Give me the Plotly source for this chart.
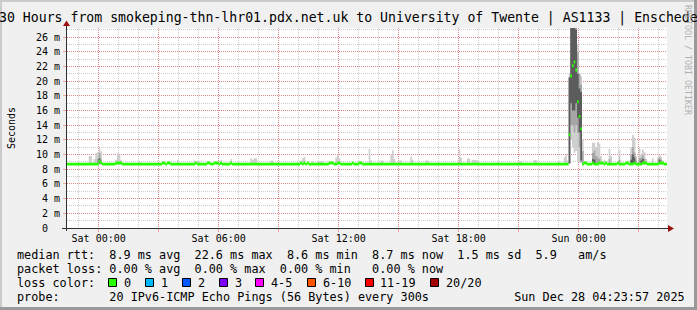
import plotly.graph_objects as go
import pandas as pd

# ---------------- data ----------------
START = "2025-12-26 22:25"
STEP = "5min"
N_SAMPLES = 360

TITLE = "30 Hours from smokeping-thn-lhr01.pdx.net.uk to University of Twente | AS1133 | Enschede"

# median rtt (ms), one value per 5-minute sample
median_rtt = [
    8.7, 8.7, 8.7, 8.7, 8.7, 8.7, 8.7, 8.7, 8.7, 8.7, 8.7, 8.7, 8.7, 8.7, 8.7, 8.7, 8.7, 8.7, 8.7, 9.1,
    8.9, 8.7, 8.7, 8.7, 8.7, 8.7, 8.7, 8.7, 8.7, 8.85, 8.85, 8.85, 8.85, 8.7, 8.7, 8.7, 8.7, 8.7, 8.7, 8.7,
    8.7, 8.7, 8.7, 8.7, 8.7, 8.7, 8.7, 8.7, 8.7, 8.7, 8.7, 8.7, 8.7, 8.7, 8.7, 8.7, 8.7, 8.85, 8.85, 8.7,
    8.85, 8.85, 8.7, 8.7, 8.7, 8.7, 8.7, 8.7, 8.7, 8.7, 8.7, 8.7, 8.7, 8.7, 8.7, 8.7, 8.7, 8.85, 8.7, 8.7,
    8.7, 8.7, 8.7, 8.7, 8.85, 8.85, 8.7, 8.7, 8.85, 8.85, 8.85, 8.7, 8.85, 8.7, 8.7, 8.7, 8.7, 8.7, 8.85, 8.7,
    8.7, 8.7, 8.7, 8.7, 8.7, 8.7, 8.7, 8.7, 8.7, 8.7, 8.7, 8.7, 8.7, 8.7, 8.7, 8.7, 8.7, 8.7, 8.7, 8.7,
    8.7, 8.7, 8.7, 8.7, 8.7, 8.7, 8.7, 8.7, 8.7, 8.7, 8.7, 8.7, 8.7, 8.7, 8.7, 8.7, 8.7, 8.7, 8.7, 8.7,
    8.85, 8.7, 8.85, 8.7, 8.85, 8.7, 8.7, 8.7, 8.7, 8.7, 8.7, 8.7, 8.7, 8.7, 8.7, 8.7, 8.7, 8.85, 8.85, 8.85,
    8.7, 8.7, 8.85, 8.85, 8.7, 8.7, 8.7, 8.7, 8.7, 8.7, 8.7, 8.85, 8.7, 8.7, 8.7, 8.85, 8.85, 8.7, 8.7, 8.7,
    8.7, 8.7, 8.7, 8.7, 8.7, 8.7, 8.7, 8.7, 8.7, 8.7, 8.7, 8.7, 8.7, 8.7, 8.7, 8.7, 8.7, 8.7, 8.7, 8.7,
    8.7, 8.7, 8.7, 8.7, 8.7, 8.7, 8.7, 8.7, 8.7, 8.7, 8.7, 8.7, 8.7, 8.7, 8.7, 8.7, 8.7, 8.7, 8.7, 8.7,
    8.7, 8.7, 8.7, 8.7, 8.7, 8.7, 8.7, 8.7, 8.7, 8.7, 8.7, 8.7, 8.7, 8.7, 8.7, 8.7, 8.7, 8.7, 8.7, 8.7,
    8.7, 8.7, 8.7, 8.7, 8.7, 8.7, 8.7, 8.7, 8.7, 8.7, 8.7, 8.7, 8.7, 8.7, 8.7, 8.7, 8.7, 8.7, 8.7, 8.7,
    8.7, 8.7, 8.7, 8.7, 8.7, 8.7, 8.7, 8.7, 8.7, 8.7, 8.7, 8.7, 8.7, 8.7, 8.7, 8.7, 8.7, 8.7, 8.7, 8.7,
    8.7, 8.7, 8.7, 8.7, 8.7, 8.7, 8.7, 8.7, 8.7, 8.7, 8.7, 8.7, 8.7, 8.7, 8.7, 8.7, 8.7, 8.7, 8.7, 8.7,
    8.7, 12.7, 20.7, 22.1, 22.6, 21.5, 17.2, 15.2, 13.5, 8.7, 8.85, 8.85, 8.7, 8.7, 8.7, 8.85, 8.7, 8.7, 8.7, 8.85,
    8.85, 8.85, 8.7, 8.85, 8.7, 8.7, 8.7, 8.7, 8.7, 8.7, 8.85, 8.7, 8.7, 8.7, 8.7, 8.85, 8.85, 8.7, 8.7, 8.7,
    8.85, 8.7, 8.7, 8.7, 8.7, 8.85, 8.85, 8.85, 8.7, 8.7, 8.7, 8.7, 8.7, 8.7, 8.7, 8.85, 8.85, 8.85, 8.7, 8.7,
]

# visible smoke (full ping spread): sample number, min ping, max ping (ms)
smoke_sample = [13, 14, 16, 17, 18, 19, 20, 29, 30, 31, 32, 43, 66, 76, 78, 79, 92, 98,
                110, 111, 112, 113, 122, 123, 140, 141, 142, 147, 150, 151, 152, 153,
                161, 162, 163, 181, 182, 188, 189, 194, 195, 196, 199, 200, 206, 207,
                215, 216, 235, 236, 240, 241, 243, 244, 245, 246, 258, 271, 272, 280,
                281, 295, 298, 299, 300, 301, 302, 303, 304, 305, 306, 307, 308, 309,
                315, 316, 317, 318, 319, 320, 322, 325, 326, 331, 336, 338, 339, 340,
                341, 343, 344, 345, 346, 347, 351, 354, 355, 356, 357]
smoke_min = [8.6, 8.6, 8.6, 8.6, 8.6, 8.6, 8.6, 8.6, 8.6, 8.6, 8.6, 8.6, 8.6, 8.6, 8.6, 8.6, 8.6, 8.6,
             8.6, 8.6, 8.6, 8.6, 8.6, 8.6, 8.6, 8.6, 8.6, 8.6, 8.6, 8.6, 8.6, 8.6,
             8.6, 8.6, 8.6, 8.6, 8.6, 8.6, 8.6, 8.6, 8.6, 8.6, 8.6, 8.6, 8.6, 8.6,
             8.6, 8.6, 8.6, 8.6, 8.6, 8.6, 8.6, 8.6, 8.6, 8.6, 8.6, 8.6, 8.6, 8.6,
             8.6, 8.6, 8.6, 8.6, 8.6, 8.7, 12.0, 11.0, 10.2, 10.5, 9.0, 8.9, 8.8, 8.6,
             8.6, 8.6, 8.6, 8.6, 8.6, 8.6, 8.6, 8.6, 8.6, 8.6, 8.6, 8.6, 8.6, 8.6,
             8.6, 8.6, 8.6, 8.6, 8.6, 8.6, 8.6, 8.6, 8.6, 8.6, 8.6]
smoke_max = [9.8, 9.8, 9.4, 10.2, 10.3, 11.1, 10.4, 9.3, 10.2, 10.0, 9.3, 9.1, 9.3, 9.2, 9.1, 9.1, 9.3, 9.35,
             9.5, 9.3, 9.5, 9.5, 9.2, 9.2, 9.2, 9.5, 9.66, 9.1, 9.1, 9.1, 9.1, 9.1,
             9.6, 10.0, 9.5, 10.8, 9.2, 9.2, 9.2, 10.0, 10.6, 9.4, 9.2, 9.2, 9.75, 9.3,
             9.2, 9.2, 10.7, 9.6, 9.5, 9.4, 9.3, 9.2, 9.3, 9.2, 9.1, 9.1, 9.1, 9.3,
             9.2, 9.1, 9.6, 10.0, 9.2, 21.0, 30.0, 30.0, 30.0, 30.0, 25.0, 21.0, 20.7, 12.0,
             11.6, 11.6, 11.0, 11.7, 11.5, 9.8, 9.3, 10.8, 9.8, 10.7, 9.2, 11.0, 12.7, 12.3,
             9.8, 10.9, 10.0, 10.7, 10.3, 9.4, 9.5, 9.6, 10.0, 9.7, 9.2]

# denser middle part of the ping spread
mid_sample = [18, 19, 20, 301, 302, 303, 304, 305, 306, 307, 308, 309, 315, 316, 317,
              318, 319, 325, 331, 338, 339, 340, 341, 343, 344, 345, 346, 355, 356]
mid_lo = [8.7, 8.7, 8.7, 8.8, 14.0, 14.0, 13.0, 14.0, 13.0, 11.0, 9.0, 8.7, 8.7, 8.7, 8.7,
          8.7, 8.7, 8.7, 8.7, 8.7, 8.7, 8.7, 8.7, 8.7, 8.7, 8.7, 8.7, 8.7, 8.7]
mid_hi = [9.4, 10.2, 9.3, 20.5, 30.0, 30.0, 30.0, 29.0, 24.0, 21.0, 19.5, 10.5, 10.2, 10.5, 9.8,
          9.6, 9.4, 9.4, 9.3, 10.0, 11.0, 10.3, 9.2, 9.5, 9.6, 9.9, 9.5, 9.6, 9.3]

# core of the ping spread (darkest smoke)
core_sample = [19, 301, 302, 303, 304, 305, 306, 307, 308, 315, 316, 338, 339, 340, 344, 345, 355]
core_lo = [8.8, 8.8, 17.0, 16.0, 16.0, 17.0, 15.0, 13.0, 9.2, 8.7, 8.7, 8.7, 8.7, 8.7, 8.7, 8.7, 8.7]
core_hi = [9.5, 20.5, 29.0, 30.0, 28.0, 27.0, 21.0, 19.0, 18.5, 9.4, 9.3, 9.3, 10.0, 9.6, 9.2, 9.4, 9.3]

x_tick_times = ["2025-12-27 00:00", "2025-12-27 03:00", "2025-12-27 06:00", "2025-12-27 09:00",
                "2025-12-27 12:00", "2025-12-27 15:00", "2025-12-27 18:00", "2025-12-27 21:00",
                "2025-12-28 00:00", "2025-12-28 03:00"]
x_tick_labels = ["Sat 00:00", "", "Sat 06:00", "", "Sat 12:00", "", "Sat 18:00", "", "Sun 00:00", ""]
y_tick_values = [0, 2, 4, 6, 8, 10, 12, 14, 16, 18, 20, 22, 24, 26]
y_tick_labels = ["0  ", "2 m", "4 m", "6 m", "8 m", "10 m", "12 m", "14 m", "16 m",
                 "18 m", "20 m", "22 m", "24 m", "26 m"]
Y_MAX = 27.23

loss_labels = ["0", "1", "2", "3", "4-5", "6-10", "11-19", "20/20"]
loss_colors = ["#26ff00", "#00b8ff", "#0059ff", "#7e00ff", "#ff00ff", "#ff5500", "#ff0000", "#a10000"]

row_rtt = "median rtt:  8.9 ms avg  22.6 ms max  8.6 ms min  8.7 ms now  1.5 ms sd  5.9   am/s"
row_loss = "packet loss: 0.00 % avg  0.00 % max  0.00 % min   0.00 % now"
row_color = "loss color:"
row_probe = "probe:       20 IPv6-ICMP Echo Pings (56 Bytes) every 300s            Sun Dec 28 04:23:57 2025"

# ---------------- helpers ----------------
FONT = "DejaVu Sans Mono"
W, H = 697, 310
L, R, T, B = 67, 30, 28, 82
PW, PH = W - L - R, H - T - B
BOTTOM = T + PH


def PX(px):
    return (px - L) / PW


def PY(py):
    return (BOTTOM - py) / PH


def nb(s):
    return s.replace(" ", "\u00a0")


times = [t.strftime("%Y-%m-%d %H:%M:%S") for t in pd.date_range(START, periods=N_SAMPLES + 1, freq=STEP)]


def band(samples, lo, hi):
    """step-shaped filled band (union of per-sample rectangles)"""
    runs = []
    for k, s in enumerate(samples):
        if runs and s == runs[-1][-1][0] + 1:
            runs[-1].append((s, lo[k], hi[k]))
        else:
            runs.append([(s, lo[k], hi[k])])
    xs, ys = [], []
    for run in runs:
        for s, l, h in run:
            xs += [times[s], times[s + 1]]
            ys += [h, h]
        for s, l, h in reversed(run):
            xs += [times[s + 1], times[s]]
            ys += [l, l]
        xs += [times[run[0][0]], None]
        ys += [run[0][2], None]
    return xs, ys


fig = go.Figure()


def add_band(samples, lo, hi, color):
    xs, ys = band(samples, lo, hi)
    fig.add_trace(go.Scatter(x=xs, y=ys, mode="lines", fill="toself", fillcolor=color,
                             line=dict(width=0, color=color), hoverinfo="skip", connectgaps=False))


add_band(smoke_sample, smoke_min, smoke_max, "#cfcfcf")
add_band(mid_sample, mid_lo, mid_hi, "#a6a6a6")
add_band(core_sample, core_lo, core_hi, "#5c5c5c")

HALF = 0.2
all_samples = list(range(N_SAMPLES))
add_band(all_samples, [m - HALF for m in median_rtt], [m + HALF for m in median_rtt], loss_colors[0])

RED_GRID = "rgba(255,0,0,0.33)"
GREY_GRID = "rgba(0,0,0,0.2)"

fig.update_layout(
    width=W, height=H,
    margin=dict(l=L, r=R, t=T, b=B, pad=0),
    paper_bgcolor="#f0f0f0", plot_bgcolor="#ffffff",
    showlegend=False,
    font=dict(family=FONT, size=10, color="#000000"),
    xaxis=dict(
        type="date", range=[times[0], times[-1]],
        tickmode="array", tickvals=x_tick_times, ticktext=x_tick_labels,
        showgrid=True, gridcolor=RED_GRID, gridwidth=1, griddash="1px,1px",
        ticks="outside", ticklen=3, tickcolor=RED_GRID, ticklabelstandoff=-2,
        tickfont=dict(family=FONT, size=10, color="#000"),
        zeroline=False, showline=False, fixedrange=True,
        minor=dict(tickmode="linear", tick0="2025-12-27 00:00", dtick=3600000,
                   showgrid=True, gridcolor=GREY_GRID, griddash="1px,1px", gridwidth=1, ticks=""),
    ),
    yaxis=dict(
        range=[0, Y_MAX],
        tickmode="array", tickvals=y_tick_values, ticktext=[nb(t) for t in y_tick_labels],
        showgrid=True, gridcolor=RED_GRID, gridwidth=1, griddash="1px,1px",
        ticks="outside", ticklen=3, tickcolor=RED_GRID, ticklabelstandoff=1,
        tickfont=dict(family=FONT, size=10, color="#000"),
        zeroline=False, showline=False, fixedrange=True,
        minor=dict(tickmode="linear", tick0=0, dtick=1,
                   showgrid=True, gridcolor=GREY_GRID, griddash="1px,1px", gridwidth=1, ticks=""),
    ),
)

shapes = []
# frame shading
shapes.append(dict(type="rect", xref="paper", yref="paper", x0=PX(0), x1=PX(W), y0=PY(0), y1=PY(2),
                   fillcolor="#cbcbcb", line=dict(width=0), layer="below"))
shapes.append(dict(type="rect", xref="paper", yref="paper", x0=PX(0), x1=PX(2), y0=PY(0), y1=PY(H),
                   fillcolor="#cbcbcb", line=dict(width=0), layer="below"))
shapes.append(dict(type="rect", xref="paper", yref="paper", x0=PX(0), x1=PX(W), y0=PY(H - 3), y1=PY(H),
                   fillcolor="#999999", line=dict(width=0), layer="below"))
shapes.append(dict(type="rect", xref="paper", yref="paper", x0=PX(W - 3), x1=PX(W), y0=PY(0), y1=PY(H),
                   fillcolor="#999999", line=dict(width=0), layer="below"))
# axes
AXIS = "#303030"
shapes.append(dict(type="line", xref="paper", yref="paper", x0=PX(62), x1=PX(670), y0=PY(BOTTOM + 0.5),
                   y1=PY(BOTTOM + 0.5), line=dict(color=AXIS, width=1)))
shapes.append(dict(type="line", xref="paper", yref="paper", x0=PX(66.5), x1=PX(66.5), y0=PY(BOTTOM + 3),
                   y1=PY(24), line=dict(color=AXIS, width=1)))
ARROW = "#991111"


def tri(pts):
    return "M " + " L ".join(f"{PX(a)},{PY(b)}" for a, b in pts) + " Z"


shapes.append(dict(type="path", xref="paper", yref="paper", path=tri([(668, 225), (674, 228.5), (668, 232)]),
                   fillcolor=ARROW, line=dict(width=0)))
shapes.append(dict(type="path", xref="paper", yref="paper", path=tri([(63, 26), (66.5, 20.5), (70, 26)]),
                   fillcolor=ARROW, line=dict(width=0)))

# loss colour boxes
box_x = [108.5, 145.5, 182.5, 219.5, 255.5, 307.5, 365.5, 430.5]
lab_x = [122.5, 159.5, 196.5, 233.5, 269.5, 321.5, 378.5, 444.5]
for bx, c in zip(box_x, loss_colors):
    shapes.append(dict(type="rect", xref="paper", yref="paper", x0=PX(bx), x1=PX(bx + 8),
                       y0=PY(278.5), y1=PY(286.5), fillcolor=c, line=dict(color="#000000", width=1)))

annotations = []


def txt(text, px, py, size=11.8, anchor="left", angle=0, color="#000000", yanchor="middle"):
    annotations.append(dict(text=nb(text), x=PX(px), y=PY(py), xref="paper", yref="paper",
                            xanchor=anchor, yanchor=yanchor, showarrow=False, textangle=angle,
                            font=dict(family=FONT, size=size, color=color), borderpad=0))


txt(TITLE, W / 2, 18.5, size=13.2, anchor="center")
txt("Seconds", 11, 128, size=10, anchor="center", angle=-90)
txt("RRDTOOL / TOBI OETIKER", 688, 60, size=8.3, anchor="center", angle=90, color="#b0b0b0")
txt(row_rtt, 15.5, 255)
txt(row_loss, 15.5, 268.5)
txt(row_color, 15.5, 282.5)
for lx, lab in zip(lab_x, loss_labels):
    txt(lab, lx, 282.5)
txt(row_probe, 15.5, 296.5)

fig.update_layout(shapes=shapes, annotations=annotations)
fig.write_html("out.html")
